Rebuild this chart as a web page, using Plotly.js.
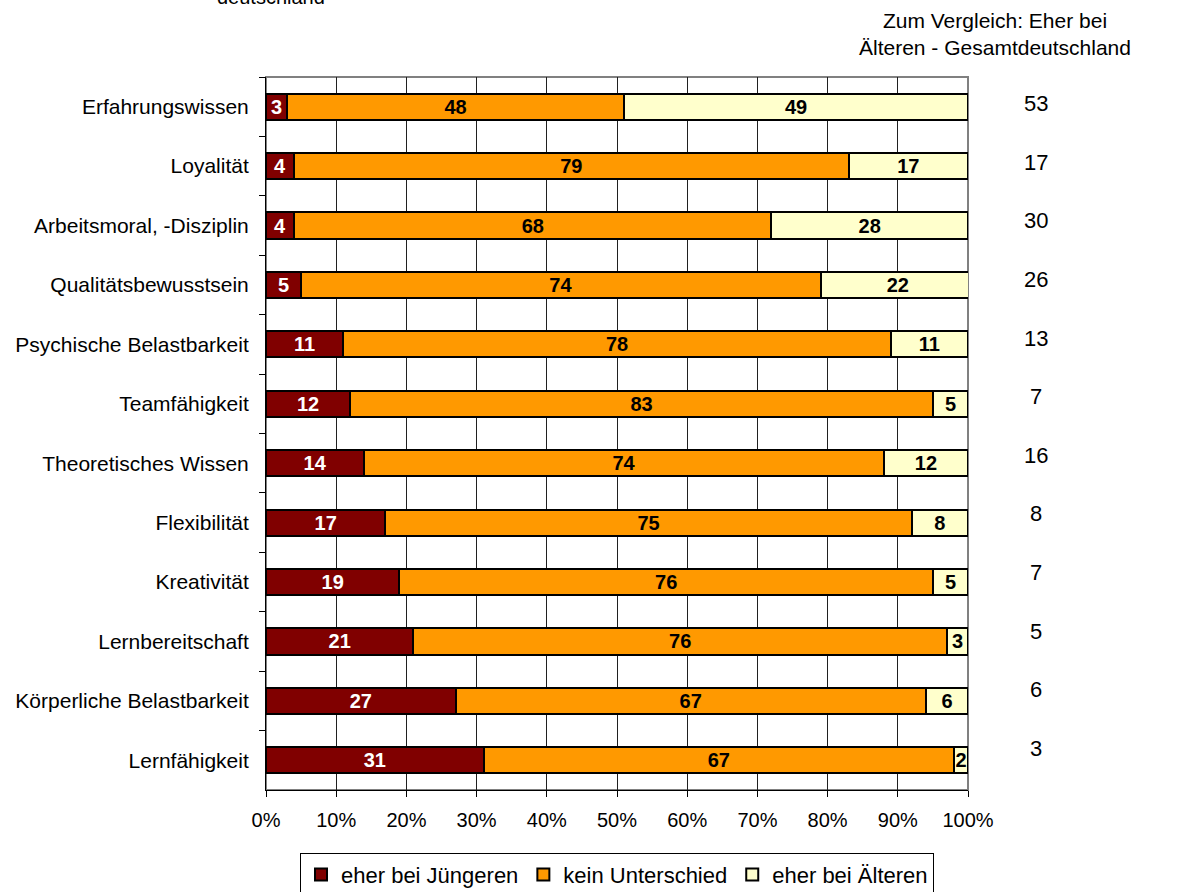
<!DOCTYPE html>
<html>
<head>
<meta charset="utf-8">
<script src="https://cdn.plot.ly/plotly-3.0.1.min.js"></script>
<style>html,body{margin:0;padding:0;background:#fff;}#chart{width:1178px;height:892px;}</style>
</head>
<body>
<div id="chart"></div>
<script>
const categories = ["Erfahrungswissen","Loyalität","Arbeitsmoral, -Disziplin","Qualitätsbewusstsein","Psychische Belastbarkeit","Teamfähigkeit","Theoretisches Wissen","Flexibilität","Kreativität","Lernbereitschaft","Körperliche Belastbarkeit","Lernfähigkeit"];
const eherJuengeren = [3,4,4,5,11,12,14,17,19,21,27,31];
const keinUnterschied = [48,79,68,74,78,83,74,75,76,76,67,67];
const eherAelteren = [49,17,28,22,11,5,12,8,5,3,6,2];
const vergleichAeltere = [53,17,30,26,13,7,16,8,7,5,6,3];
const seriesNames = ["eher bei Jüngeren","kein Unterschied","eher bei Älteren"];
const xTickVals = [0,10,20,30,40,50,60,70,80,90,100];

const FONT = "Liberation Sans, Arial, sans-serif";
const colors = ["#800000","#FF9900","#FFFFCC"];
const textColors = ["#ffffff","#000000","#000000"];
const data = [eherJuengeren, keinUnterschied, eherAelteren].map((vals,i)=>({
  type:"bar", orientation:"h", name:seriesNames[i],
  x:vals, y:categories,
  marker:{color:colors[i], line:{color:"#000000", width:2}},
  text:vals.map(v=>"<b>"+v+"</b>"), textposition:"inside", insidetextanchor:"middle",
  textangle:0, textfont:{family:FONT, size:20, color:textColors[i]}, constraintext:"none",
  hoverinfo:"skip"
}));

const annotations = categories.map((c,i)=>({
  xref:"paper", yref:"y", x:1.097, y:c, yshift:3 + i*0.82, text:String(vergleichAeltere[i]),
  showarrow:false, font:{family:FONT, size:22, color:"#000"}, xanchor:"center", yanchor:"middle"
}));
annotations.push({xref:"paper", yref:"paper", x:1.038, y:1.0, yshift:16, xanchor:"center", yanchor:"bottom",
  text:"Zum Vergleich: Eher bei<br>Älteren - Gesamtdeutschland", showarrow:false,
  font:{family:FONT, size:21, color:"#000"}});
annotations.push({xref:"paper", yref:"paper", x:-0.073, y:1.112, xanchor:"left", yanchor:"middle",
  text:"deutschland", showarrow:false, font:{family:FONT, size:20, color:"#000"}});

const layout = {
  width:1178, height:892,
  margin:{l:266, r:210, t:77, b:102, autoexpand:false},
  paper_bgcolor:"#fff", plot_bgcolor:"#fff",
  barmode:"stack", bargap:0.56,
  font:{family:FONT, size:20, color:"#000"},
  xaxis:{range:[0,100], tickvals:xTickVals, ticktext:xTickVals.map(v=>v+"%"),
    showgrid:true, gridcolor:"#202020", gridwidth:1, zeroline:false,
    showline:true, linecolor:"#000", linewidth:1, ticks:"outside", ticklen:6, tickcolor:"#000",
    tickfont:{family:FONT, size:20}, ticklabelstandoff:6, fixedrange:true},
  yaxis:{type:"category", autorange:"reversed", categoryorder:"array", categoryarray:categories,
    showgrid:false, zeroline:false, showline:true, linecolor:"#000", linewidth:1,
    ticks:"outside", ticklen:6, tickcolor:"#000", tickson:"boundaries",
    tickfont:{family:FONT, size:21}, ticklabelstandoff:12, fixedrange:true},
  shapes:[{type:"rect", xref:"paper", yref:"paper", x0:0, x1:1, y0:0, y1:1, line:{color:"#808080", width:2}, layer:"below"}],
  legend:{orientation:"h", x:0.5, xanchor:"center", y:-0.1495, yanchor:"bottom",
    bordercolor:"#000", borderwidth:1, font:{family:FONT, size:22}, traceorder:"normal",
    itemwidth:30, tracegroupgap:0},
  annotations:annotations,
  showlegend:true
};
Plotly.newPlot("chart", data, layout, {displayModeBar:false, staticPlot:true});
</script>
</body>
</html>
